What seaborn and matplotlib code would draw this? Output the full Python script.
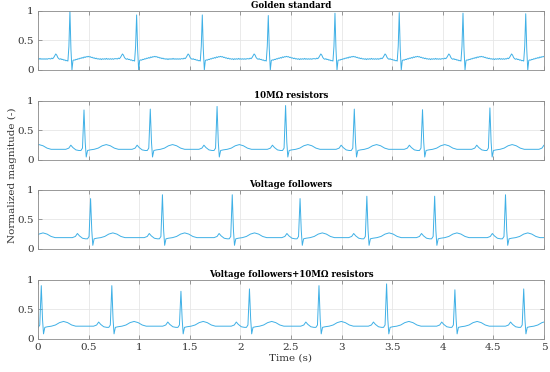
import numpy as np
import pandas as pd
import matplotlib
matplotlib.use("Agg")
import matplotlib.pyplot as plt
import seaborn as sns

# Panel titles
titles = ["Golden standard", "10M\u03a9 resistors", "Voltage followers",
          "Voltage followers+10M\u03a9 resistors"]

# R-peak times (s) for each panel, incl. one beat just outside each edge
beats_golden = [-0.34, 0.316, 0.975, 1.624, 2.276, 2.935, 3.57, 4.20, 4.82, 5.44]
beats_res = [-0.21, 0.455, 1.11, 1.77, 2.447, 3.126, 3.80, 4.466, 5.13]
beats_vf = [-0.17, 0.52, 1.23, 1.92, 2.59, 3.25, 3.92, 4.62, 5.31]
beats_vf_res = [-0.65, 0.033, 0.73, 1.413, 2.09, 2.777, 3.445, 4.12, 4.80, 5.48]

# R-peak heights (normalized)
peaks_golden = [0.95, 1.0, 0.93, 0.93, 0.92, 0.96, 0.97, 0.96, 0.95, 0.95]
peaks_res = [0.88, 0.845, 0.86, 0.905, 0.92, 0.86, 0.85, 0.88, 0.88]
peaks_vf = [0.89, 0.85, 0.915, 0.915, 0.85, 0.89, 0.89, 0.915, 0.89]
peaks_vf_res = [0.9, 0.9, 0.9, 0.805, 0.845, 0.9, 0.93, 0.83, 0.845, 0.85]

# Baseline shift of each filtered panel
shift_filtered = [0.0, 0.01, 0.035]

# Golden standard beat shape (noisy), sampled every 10 ms from -0.20 s to 0.44 s
golden_offsets = np.round(np.arange(-0.20, 0.445, 0.01), 3)
golden_shape = [0.19, 0.185, 0.20, 0.19, 0.21, 0.24, 0.27, 0.25, 0.21, 0.19,
                0.18, 0.19, 0.175, 0.18, 0.165, 0.17, 0.155, 0.16, 0.15, 0.40,
                np.nan, 0.35, 0.00, 0.16, 0.17, 0.165, 0.18, 0.175, 0.19, 0.185,
                0.20, 0.195, 0.21, 0.20, 0.22, 0.21, 0.225, 0.22, 0.23, 0.22,
                0.225, 0.21, 0.215, 0.20, 0.205, 0.19, 0.20, 0.185, 0.19, 0.18,
                0.19, 0.175, 0.19, 0.18, 0.19, 0.18, 0.195, 0.18, 0.19, 0.18,
                0.19, 0.18, 0.19, 0.18, 0.19]

# Filtered beat shape (smooth)
filt_offsets = [-0.22, -0.18, -0.15, -0.13, -0.11, -0.08, -0.05, -0.03, -0.015,
                0.0, 0.012, 0.022, 0.035, 0.06, 0.10, 0.14, 0.18, 0.22, 0.26,
                0.30, 0.34, 0.38, 0.42]
filt_shape = [0.18, 0.18, 0.20, 0.25, 0.21, 0.17, 0.16, 0.16, 0.20,
              np.nan, 0.30, 0.05, 0.16, 0.17, 0.18, 0.20, 0.24, 0.26, 0.24,
              0.20, 0.18, 0.18, 0.18]


def build_trace(beats, peaks, offsets, shape, shift=0.0):
    offsets = np.asarray(offsets, dtype=float)
    shape = np.asarray(shape, dtype=float)
    ts, vs = [], []
    for i, (tb, pk) in enumerate(zip(beats, peaks)):
        v = np.where(np.isnan(shape), pk, shape + shift)
        t = tb + offsets
        if i + 1 < len(beats):
            keep = t < beats[i + 1] + offsets[0]
            t, v = t[keep], v[keep]
        ts.append(t)
        vs.append(v)
    return pd.DataFrame({"time": np.concatenate(ts), "value": np.concatenate(vs)})


traces = [
    build_trace(beats_golden, peaks_golden, golden_offsets, golden_shape),
    build_trace(beats_res, peaks_res, filt_offsets, filt_shape, shift_filtered[0]),
    build_trace(beats_vf, peaks_vf, filt_offsets, filt_shape, shift_filtered[1]),
    build_trace(beats_vf_res, peaks_vf_res, filt_offsets, filt_shape, shift_filtered[2]),
]

sns.set_style("ticks")
plt.rcParams["font.family"] = ["DejaVu Serif"]
plt.rcParams["mathtext.fontset"] = "dejavuserif"

line_color = "#3FB0E6"

fig = plt.figure(figsize=(5.5, 3.72), dpi=100)
bottoms = [0.812, 0.570, 0.331, 0.089]
height = 0.159

for k, (df, title) in enumerate(zip(traces, titles)):
    ax = fig.add_axes([0.069, bottoms[k], 0.92, height])
    sns.lineplot(data=df, x="time", y="value", ax=ax, color=line_color,
                 linewidth=0.7, estimator=None, sort=False)
    ax.set_xlim(0, 5)
    ax.set_ylim(0, 1)
    ax.set_xticks(np.arange(0, 5.01, 0.5))
    ax.set_yticks([0, 0.5, 1])
    ax.set_yticklabels(["0", "0.5", "1"])
    ax.grid(True, color="#e6e6e6", linewidth=0.6)
    ax.set_axisbelow(True)
    for sp in ax.spines.values():
        sp.set_visible(True)
        sp.set_color("#8c8c8c")
        sp.set_linewidth(0.6)
    ax.tick_params(direction="in", length=3, width=0.5, color="#777777",
                   labelsize=7.5, labelcolor="#333333", top=True, right=True, pad=3)
    ax.set_title(title, fontsize=6.2, fontweight="bold", pad=2, color="black")
    ax.set_ylabel("")
    ax.set_xlabel("")
    if k < 3:
        ax.set_xticklabels([])
    else:
        ax.set_xticklabels(["0", "0.5", "1", "1.5", "2", "2.5", "3", "3.5", "4", "4.5", "5"])
        ax.set_xlabel("Time (s)", fontsize=7.5, color="#333333", labelpad=1)

fig.text(0.022, 0.53, "Normalized magnitude (-)", rotation=90, ha="center",
         va="center", fontsize=7.5, color="#333333")

fig.savefig("out.png", dpi=100)
